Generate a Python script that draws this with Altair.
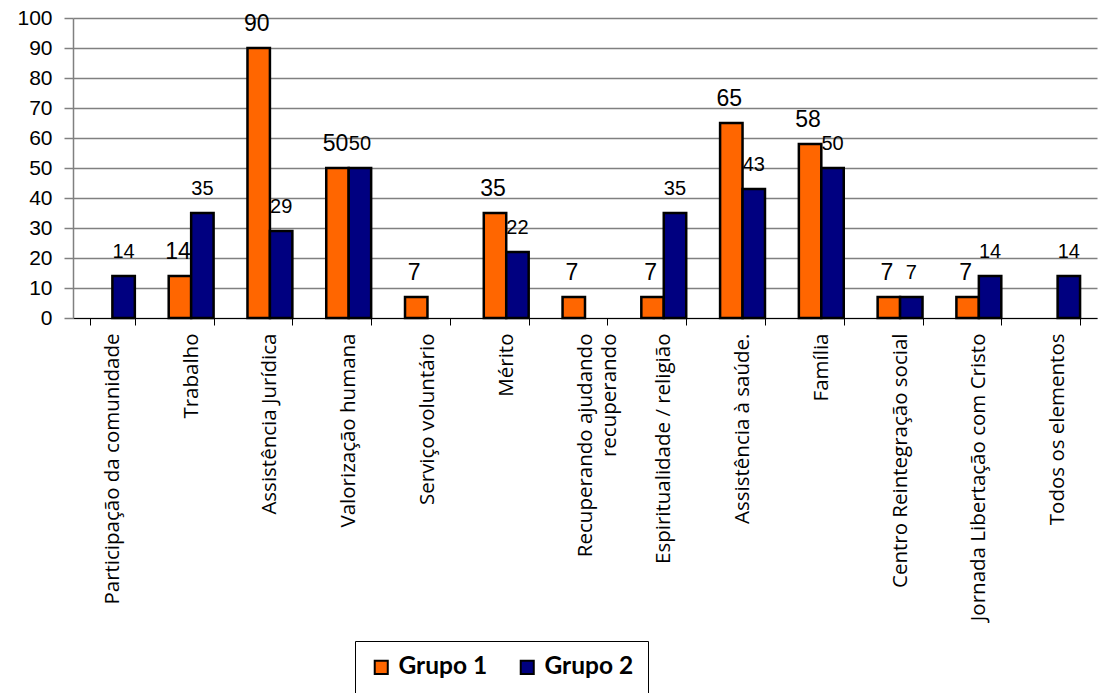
import altair as alt
import pandas as pd

# Categories (line break inside a label is drawn as a second line)
categorias = [
    "Participação da comunidade",
    "Trabalho",
    "Assistência Jurídica",
    "Valorização humana",
    "Serviço voluntário",
    "Mérito",
    "Recuperando ajudando\nrecuperando",
    "Espiritualidade / religião",
    "Assistência à saúde.",
    "Família",
    "Centro Reintegração social",
    "Jornada Libertação com Cristo",
    "Todos os elementos",
]
grupo1 = [0, 14, 90, 50, 7, 35, 7, 7, 65, 58, 7, 7, 0]
grupo2 = [14, 35, 29, 50, 0, 22, 0, 35, 43, 50, 7, 14, 14]
grupos = ["Grupo 1", "Grupo 2"]
cores = ["#FF6600", "#000080"]
y_ticks = list(range(0, 101, 10))

rows = []
for cat, v1, v2 in zip(categorias, grupo1, grupo2):
    rows.append({"categoria": cat, "grupo": grupos[0], "valor": v1})
    rows.append({"categoria": cat, "grupo": grupos[1], "valor": v2})
df = pd.DataFrame(rows)

x_enc = alt.X(
    "categoria:N",
    sort=categorias,
    scale=alt.Scale(paddingInner=0.43, paddingOuter=0.215),
    axis=alt.Axis(
        title=None,
        labelAngle=-90,
        labelFont="Open Sans",
        labelFontSize=20.5,
        labelColor="#000000",
        labelPadding=8,
        labelLimit=0,
        labelLineHeight=24,
        labelExpr="split(datum.label, '\\n')",
        tickBand="extent",
        tickSize=7,
        tickColor="#000000",
        domainColor="#000000",
        domainWidth=1.2,
        grid=False,
    ),
)
xoff = alt.XOffset("grupo:N", sort=grupos, scale=alt.Scale(paddingInner=0, paddingOuter=0))
y_enc = alt.Y(
    "valor:Q",
    scale=alt.Scale(domain=[0, 100], nice=False),
    axis=alt.Axis(
        title=None,
        values=y_ticks,
        labelFont="Liberation Sans",
        labelFontSize=21,
        labelColor="#000000",
        labelPadding=12,
        tickSize=9,
        tickColor="#808080",
        tickWidth=1.5,
        gridColor="#808080",
        gridWidth=1.5,
        domainColor="#808080",
        domainWidth=1.5,
    ),
)

base = alt.Chart(df).transform_filter("datum.valor > 0")

rotulos1 = base.transform_filter("datum.grupo == 'Grupo 1'").mark_text(
    font="Liberation Sans", fontSize=23, color="#000000",
    baseline="alphabetic", align="center", dy=-17, dx=-2,
).encode(x=x_enc, xOffset=xoff, y=y_enc, text="valor:Q")

rotulos2 = base.transform_filter("datum.grupo == 'Grupo 2'").mark_text(
    font="Liberation Sans", fontSize=20, color="#000000",
    baseline="alphabetic", align="center", dy=-18,
).encode(x=x_enc, xOffset=xoff, y=y_enc, text="valor:Q")

barras = base.mark_bar(stroke="#000000", strokeWidth=2.5).encode(
    x=x_enc,
    xOffset=xoff,
    y=y_enc,
    color=alt.Color(
        "grupo:N",
        sort=grupos,
        scale=alt.Scale(domain=grupos, range=cores),
        legend=alt.Legend(
            title=None,
            orient="none",
            direction="horizontal",
            legendX=282,
            legendY=623,
            symbolType="square",
            symbolSize=170,
            symbolStrokeColor="#000000",
            symbolStrokeWidth=2,
            labelFont="Lato",
            labelFontWeight="bold",
            labelFontSize=24.5,
            labelColor="#000000",
            labelOffset=5,
            columnPadding=27,
            padding=14,
            strokeColor="#000000",
            fillColor="#FFFFFF",
        ),
    ),
)

chart = (
    alt.layer(rotulos1, rotulos2, barras)
    .properties(
        width=1024,
        height=300,
        padding={"left": 73, "top": 18, "right": 1, "bottom": 375},
        autosize=alt.AutoSizeParams(type="none"),
        background="#FFFFFF",
    )
    .configure_view(stroke=None)
)

chart.save("out.html", embed_options={"renderer": "svg", "actions": False})
